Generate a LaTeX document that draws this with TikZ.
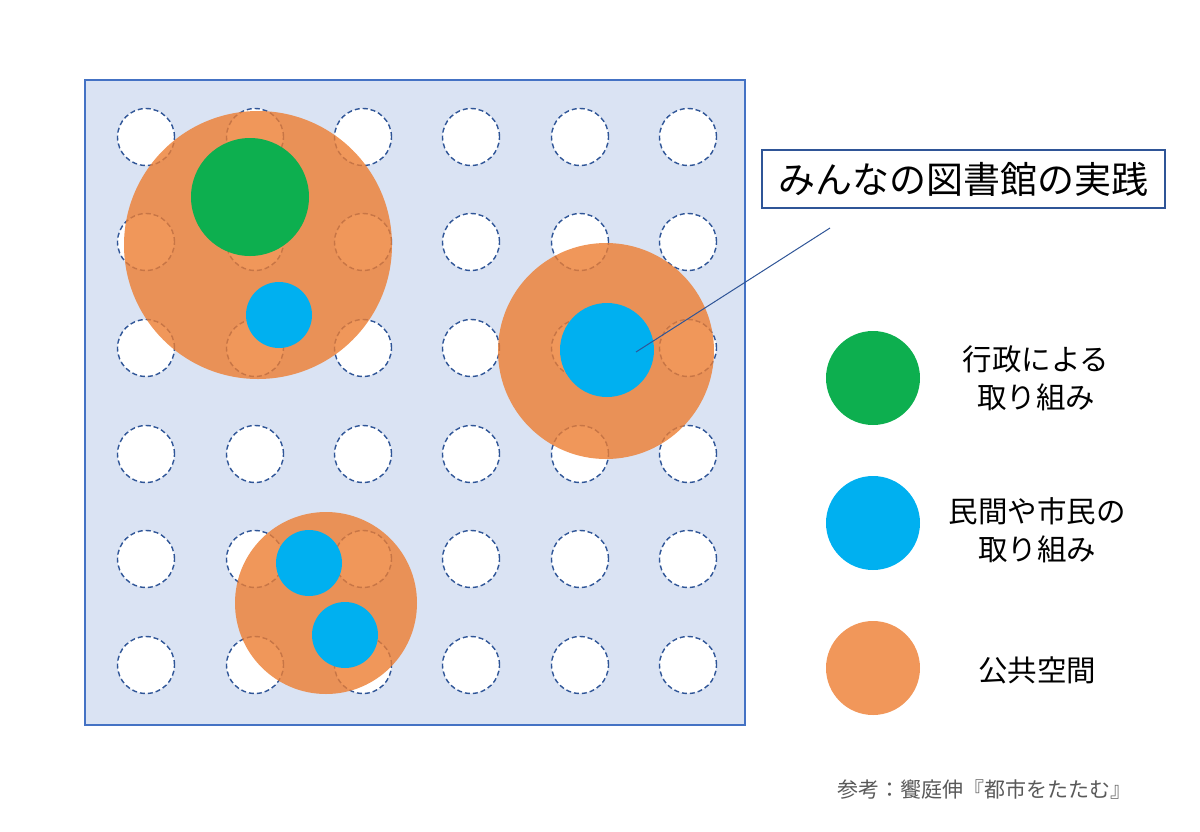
\documentclass[tikz,border=0pt]{standalone}
\usepackage{fontspec}
\setmainfont{Noto Sans CJK JP}
\definecolor{bgblue}{HTML}{DAE3F3}
\definecolor{frameblue}{HTML}{4472C4}
\definecolor{dashblue}{HTML}{2F5597}
\definecolor{orangeC}{HTML}{ED7D31}
\definecolor{greenC}{HTML}{0DAF4F}
\definecolor{blueC}{HTML}{00B0F0}
\definecolor{footgray}{HTML}{595959}
\begin{document}
\begin{tikzpicture}[x=1pt,y=-1pt,
  gridc/.style={circle, draw=dashblue, dash pattern=on 5pt off 3pt, line width=1.4pt, fill=white, minimum size=57pt, inner sep=0pt},
  pub/.style={circle, fill=orangeC, fill opacity=0.8, minimum size=#1, inner sep=0pt},
  gov/.style={circle, fill=greenC, minimum size=#1, inner sep=0pt},
  priv/.style={circle, fill=blueC, minimum size=#1, inner sep=0pt},
  legtext/.style={align=center, font=\fontsize{29.5}{38}\selectfont, text=black},
]
\useasboundingbox (0,0) rectangle (1200,831);
% frame
\node[draw=frameblue, line width=1.1pt, fill=bgblue, minimum width=660pt, minimum height=645pt, inner sep=0pt] (frame) at (415,402.5) {};
% grid of dashed circles
\foreach \i/\x in {1/146,2/255,3/363,4/471,5/580,6/688}{
  \foreach \j/\y in {1/137,2/242,3/348,4/454,5/559,6/665}{
    \node[gridc] (g\i\j) at (\x,\y) {};
  }
}
% public spaces
\node[pub=268pt] (pubA) at (258,245) {};
\node[pub=216pt] (pubB) at (606,351) {};
\node[pub=182pt] (pubC) at (326,603) {};
% initiatives
\node[gov=118pt] (govA) at (250,197) {};
\node[priv=66pt] (privA) at (279,315) {};
\node[priv=94pt] (privB) at (607,350) {};
\node[priv=66pt] (privC1) at (309,563) {};
\node[priv=66pt] (privC2) at (345,635) {};
% callout
\node[draw=dashblue, line width=1.1pt, fill=white, minimum width=403pt, minimum height=58pt, inner sep=0pt, font=\fontsize{37}{40}\selectfont] (call) at (963.5,179) {みんなの図書館の実践};
\coordinate (callfoot) at (830,228);
\coordinate (calltip) at (636,352);
\draw[dashblue, line width=1pt] (callfoot) -- (calltip);
% legend
\node[gov=94pt] (legG) at (873,378) {};
\node[legtext] (legGt) at (1036,378) {行政による\\取り組み};
\node[priv=94pt] (legB) at (873,523) {};
\node[legtext] (legBt) at (1037,530) {民間や市民の\\取り組み};
\node[pub=94pt] (legO) at (873,668) {};
\node[legtext] (legOt) at (1037,670) {公共空間};
% footer
\node[font=\fontsize{21}{24}\selectfont, text=footgray] (foot) at (984,790) {参考：饗庭伸『都市をたたむ』};
\end{tikzpicture}
\end{document}
